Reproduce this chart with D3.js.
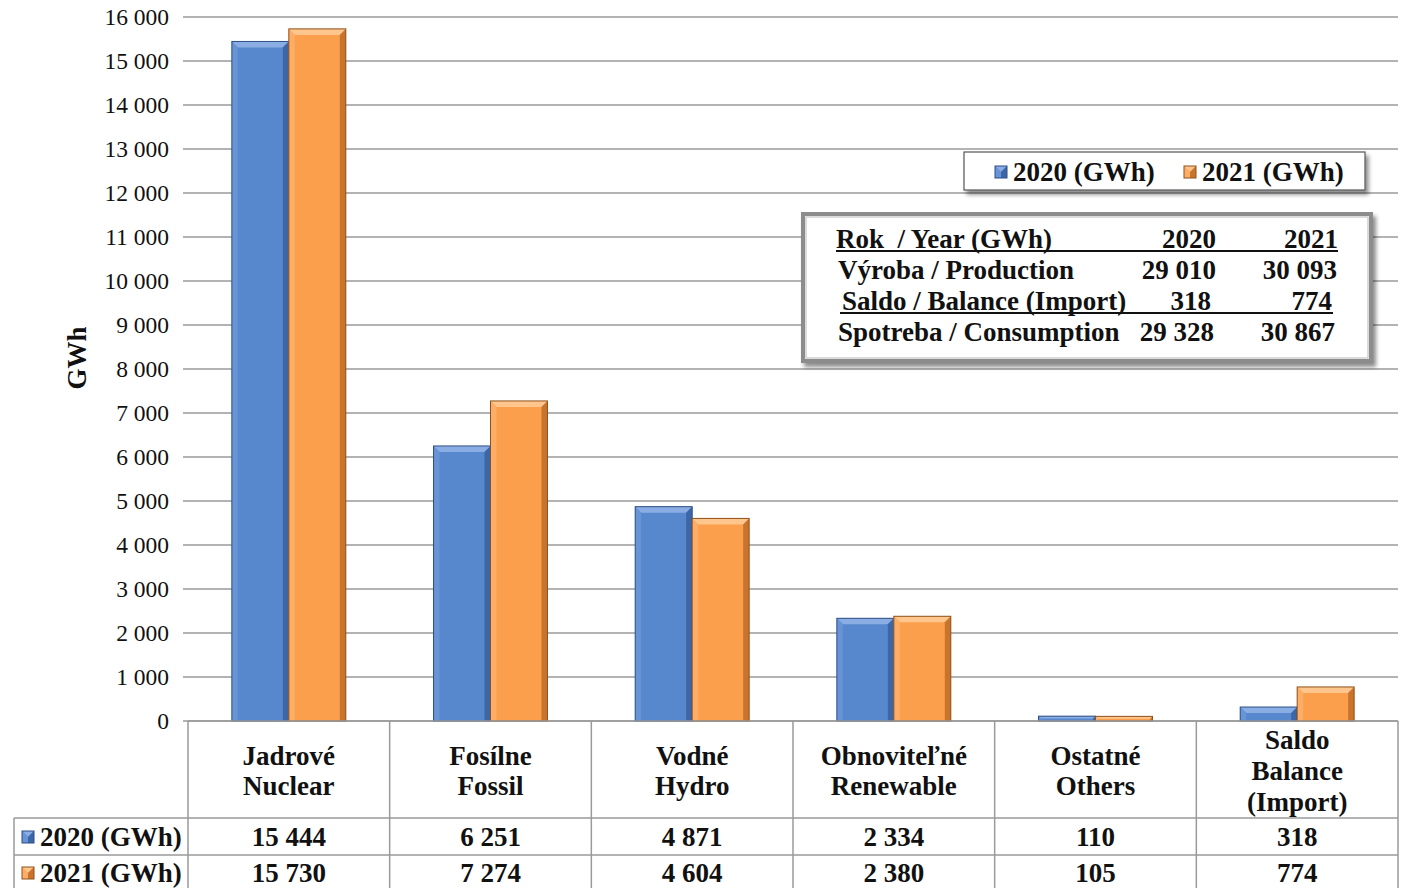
<!DOCTYPE html>
<html>
<head>
<meta charset="utf-8">
<script src="https://cdn.jsdelivr.net/npm/d3@7"></script>
<style>
  html, body { margin: 0; padding: 0; background: #fff; }
  svg { display: block; }
  text { font-family: "Liberation Serif", "Times New Roman", serif; fill: #111; white-space: pre; }
  .b { font-weight: bold; }
</style>
</head>
<body>
<svg id="chart" width="1404" height="888"></svg>
<script>
// Electricity production by source (GWh)
const categories = [
  ["Jadrové", "Nuclear"],
  ["Fosílne", "Fossil"],
  ["Vodné", "Hydro"],
  ["Obnoviteľné", "Renewable"],
  ["Ostatné", "Others"],
  ["Saldo", "Balance", "(Import)"]
];
const seriesNames = ["2020 (GWh)", "2021 (GWh)"];
const values2020 = [15444, 6251, 4871, 2334, 110, 318];
const values2021 = [15730, 7274, 4604, 2380, 105, 774];
const yTicks = [0,1000,2000,3000,4000,5000,6000,7000,8000,9000,10000,11000,12000,13000,14000,15000,16000];

// Summary box rows
const summaryHeader = ["Rok  / Year (GWh)", "2020", "2021"];
const summaryRows = [
  ["Výroba / Production", "29 010", "30 093"],
  ["Saldo / Balance (Import)", "318", "774"],
  ["Spotreba / Consumption", "29 328", "30 867"]
];

const fmt = v => d3.format(",")(v).replace(/,/g, " ");
const FS = 27;

const svg = d3.select("#chart");
const plotL = 188, plotR = 1398, plotT = 17, plotB = 721;

const palettes = [
  { face: "#5787cd", top: "#8aaee3", left: "#6794d7", right: "#3c66a6", edge: "#2e4f86" },
  { face: "#fc9f4c", top: "#fec58c", left: "#fdad66", right: "#c9742d", edge: "#8f521c" }
];

const defs = svg.append("defs");
const sh = defs.append("filter").attr("id", "shadow").attr("x", "-10%").attr("y", "-10%").attr("width", "130%").attr("height", "140%");
sh.append("feDropShadow").attr("dx", 3).attr("dy", 4).attr("stdDeviation", 2).attr("flood-color", "#000").attr("flood-opacity", 0.45);

const y = d3.scaleLinear().domain([0, 16000]).range([plotB, plotT]);
const x0 = d3.scaleBand().domain(d3.range(categories.length)).range([plotL, plotR]).padding(0);
const x1 = d3.scaleBand().domain([0, 1]).range([0, x0.bandwidth()]).paddingInner(0).paddingOuter(0.77);

// gridlines
svg.append("g").selectAll("line").data(yTicks).join("line")
  .attr("x1", plotL - 5).attr("x2", plotR)
  .attr("y1", d => y(d)).attr("y2", d => y(d))
  .attr("stroke", "#9a9a9a").attr("stroke-width", 1.3);

// y axis labels
const yAxis = d3.axisLeft(y).tickValues(yTicks).tickSize(0).tickPadding(0).tickFormat(fmt);
const yg = svg.append("g").attr("transform", `translate(${plotL - 19},0)`).call(yAxis);
yg.select(".domain").remove();
yg.selectAll("text").attr("font-size", 23.5).attr("font-family", "Liberation Serif").attr("fill", "#111").attr("dy", "0.3em");

svg.append("text").attr("class", "b")
  .attr("transform", `translate(86,${(y(8250))}) rotate(-90)`)
  .attr("text-anchor", "middle").attr("font-size", FS).text("GWh");

// beveled bars
function bevelBar(g, x, w, y0, y1, p) {
  const h = y1 - y0;
  const b = Math.min(6, h / 2, w / 2);
  g.append("rect").attr("x", x).attr("y", y0).attr("width", w).attr("height", h).attr("fill", p.face);
  const poly = (pts, c) => g.append("polygon").attr("points", pts.map(q => q.join(",")).join(" ")).attr("fill", c);
  poly([[x, y0], [x + w, y0], [x + w - b, y0 + b], [x + b, y0 + b]], p.top);
  poly([[x, y0], [x + b, y0 + b], [x + b, y1], [x, y1]], p.left);
  poly([[x + w, y0], [x + w, y1], [x + w - b, y1], [x + w - b, y0 + b]], p.right);
  g.append("rect").attr("x", x).attr("y", y0).attr("width", w).attr("height", h)
    .attr("fill", "none").attr("stroke", p.edge).attr("stroke-width", 1);
}

const seriesVals = [values2020, values2021];
const barsG = svg.append("g");
categories.forEach((c, i) => {
  seriesVals.forEach((vals, s) => {
    const bx = x0(i) + x1(s);
    bevelBar(barsG, bx, x1.bandwidth(), y(vals[i]), y(0), palettes[s]);
  });
});

// data table under the plot
const tg = svg.append("g");
const gridC = "#9a9a9a";
const rowTop = plotB, rowHead = 818, row1 = 855, rowEnd = 892;
tg.append("line").attr("x1", plotL).attr("x2", plotR).attr("y1", rowTop).attr("y2", rowTop).attr("stroke", gridC).attr("stroke-width", 1.5);
[rowHead, row1].forEach(yy => tg.append("line").attr("x1", 14).attr("x2", plotR).attr("y1", yy).attr("y2", yy).attr("stroke", gridC).attr("stroke-width", 1.5));
d3.range(categories.length + 1).forEach(i => {
  const xx = i < categories.length ? x0(i) : plotR;
  tg.append("line").attr("x1", xx).attr("x2", xx).attr("y1", rowTop).attr("y2", rowEnd).attr("stroke", gridC).attr("stroke-width", 1.5);
});
tg.append("line").attr("x1", 14).attr("x2", 14).attr("y1", rowHead).attr("y2", rowEnd).attr("stroke", gridC).attr("stroke-width", 1.5);

const rowCenters = [837, 873];
categories.forEach((lines, i) => {
  const cx = x0(i) + x0.bandwidth() / 2;
  const lh = lines.length > 2 ? 31 : 30;
  const mid = lines.length > 2 ? 771 : 771;
  const start = mid - (lines.length - 1) * lh / 2;
  lines.forEach((t, k) => {
    tg.append("text").attr("class", "b").attr("x", cx).attr("y", start + k * lh).attr("dy", "0.33em")
      .attr("text-anchor", "middle").attr("font-size", FS).text(t);
  });
  seriesVals.forEach((vals, s) => {
    tg.append("text").attr("class", "b").attr("x", cx).attr("y", rowCenters[s]).attr("dy", "0.33em")
      .attr("text-anchor", "middle").attr("font-size", FS).text(fmt(vals[i]));
  });
});

function legendSquare(g, x, yy, p) {
  bevelBar(g, x, 12, yy, yy + 12, p);
}
seriesNames.forEach((n, s) => {
  legendSquare(tg, 22, rowCenters[s] - 6, palettes[s]);
  tg.append("text").attr("class", "b").attr("x", 40).attr("y", rowCenters[s]).attr("dy", "0.33em")
    .attr("font-size", FS).text(n);
});

// legend box
const lg = svg.append("g");
lg.append("rect").attr("x", 964).attr("y", 152).attr("width", 401).attr("height", 38)
  .attr("fill", "#fff").attr("stroke", "#555").attr("stroke-width", 1.2).attr("filter", "url(#shadow)");
const legX = [995, 1184];
seriesNames.forEach((n, s) => {
  legendSquare(lg, legX[s], 166, palettes[s]);
  lg.append("text").attr("class", "b").attr("x", legX[s] + 18).attr("y", 172).attr("dy", "0.33em")
    .attr("font-size", FS).text(n);
});

// summary box
const sg = svg.append("g");
sg.append("rect").attr("x", 803).attr("y", 214).attr("width", 568).attr("height", 147)
  .attr("fill", "#fff").attr("stroke", "#8c8c8c").attr("stroke-width", 4).attr("filter", "url(#shadow)");
sg.append("rect").attr("x", 806).attr("y", 217).attr("width", 562).attr("height", 141)
  .attr("fill", "none").attr("stroke", "#cfcfcf").attr("stroke-width", 1.5);
const colL = [836, 838, 842, 838], colA = [1216, 1216, 1211, 1214], colB = [1338, 1337, 1332, 1335];
const rowsAll = [summaryHeader].concat(summaryRows);
const rowY = [239, 270, 301, 332];
rowsAll.forEach((r, k) => {
  sg.append("text").attr("class", "b").attr("x", colL[k]).attr("y", rowY[k]).attr("dy", "0.33em").attr("font-size", FS).text(r[0]);
  sg.append("text").attr("class", "b").attr("x", colA[k]).attr("y", rowY[k]).attr("dy", "0.33em").attr("text-anchor", "end").attr("font-size", FS).text(r[1]);
  sg.append("text").attr("class", "b").attr("x", colB[k]).attr("y", rowY[k]).attr("dy", "0.33em").attr("text-anchor", "end").attr("font-size", FS).text(r[2]);
});
sg.append("line").attr("x1", 836).attr("x2", 1338).attr("y1", 251).attr("y2", 251).attr("stroke", "#111").attr("stroke-width", 1.8);
sg.append("line").attr("x1", 840).attr("x2", 1333).attr("y1", 313).attr("y2", 313).attr("stroke", "#111").attr("stroke-width", 1.8);
</script>
</body>
</html>
